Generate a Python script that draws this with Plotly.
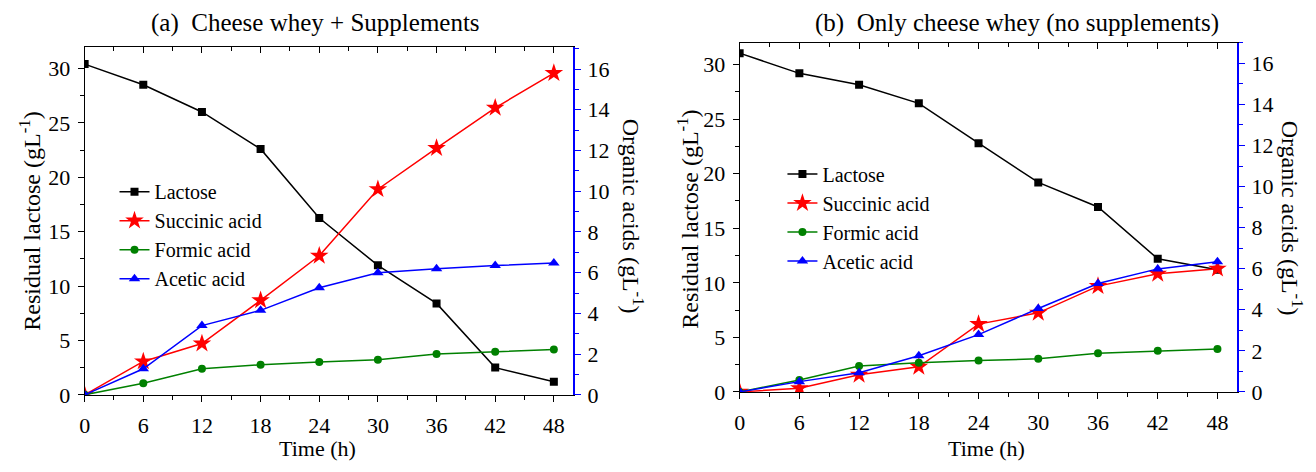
import plotly.graph_objects as go

W, H = 1316, 472

# ---------------- data ----------------
time_h = [0, 6, 12, 18, 24, 30, 36, 42, 48]
x_ticks = [0, 6, 12, 18, 24, 30, 36, 42, 48]

# (a) Cheese whey + Supplements
a_lactose = [30.4, 28.5, 26.0, 22.6, 16.25, 11.9, 8.4, 2.5, 1.2]
a_succinic = [0.0, 1.64, 2.52, 4.64, 6.83, 10.1, 12.12, 14.1, 15.8]
a_formic = [0.0, 0.57, 1.28, 1.48, 1.61, 1.72, 2.0, 2.12, 2.23]
a_acetic = [0.0, 1.28, 3.40, 4.15, 5.26, 6.0, 6.19, 6.35, 6.47]

# (b) Only cheese whey (no supplements)
b_lactose = [31.05, 29.2, 28.15, 26.45, 22.8, 19.2, 16.95, 12.2, 11.2]
b_succinic = [0.0, 0.18, 0.83, 1.22, 3.3, 3.85, 5.15, 5.75, 6.0]
b_formic = [0.0, 0.58, 1.26, 1.42, 1.53, 1.61, 1.88, 2.0, 2.09]
b_acetic = [0.0, 0.5, 0.93, 1.76, 2.79, 4.06, 5.28, 5.99, 6.34]

series_names = ["Lactose", "Succinic acid", "Formic acid", "Acetic acid"]
titles = ["(a)  Cheese whey + Supplements", "(b)  Only cheese whey (no supplements)"]
xlabel = "Time (h)"
ylabel_left = "Residual lactose (gL<sup>-1</sup>)"
ylabel_right = "Organic acids (gL<sup>-1</sup>)"

# ---------------- style ----------------
FONT = "Liberation Serif"
colors = ["#000000", "#ff0000", "#008000", "#0000ff"]
symbols = ["square", "star", "circle", "triangle-up"]
msizes = [8, 14, 8, 10]


def px(x):
    return x / W


def py(y):
    return 1 - y / H


fig = go.Figure()

panels = [
    dict(data=[a_lactose, a_succinic, a_formic, a_acetic], x="x", y="y", y2="y2", xt="x5",
         legend="legend", xdom=[px(79), px(570)], ydom=[py(406), py(48)], y2max=17.1),
    dict(data=[b_lactose, b_succinic, b_formic, b_acetic], x="x2", y="y3", y2="y4", xt="x6",
         legend="legend2", xdom=[px(737), px(1237)], ydom=[py(403), py(44)], y2max=17.0),
]

for p in panels:
    for i, (vals, name) in enumerate(zip(p["data"], series_names)):
        fig.add_trace(go.Scatter(
            x=time_h, y=vals, name=name, mode="lines+markers",
            xaxis=p["x"], yaxis=p["y"] if i == 0 else p["y2"],
            line=dict(color=colors[i], width=1.5),
            marker=dict(symbol=symbols[i], size=msizes[i], color=colors[i],
                        line=dict(width=0)),
            legend=p["legend"],
        ))
    # dummy trace for top tick axis
    fig.add_trace(go.Scatter(x=[0], y=[0], xaxis=p["xt"], yaxis=p["y"], mode="markers",
                             marker=dict(opacity=0), showlegend=False, hoverinfo="skip"))

axis_font = dict(family=FONT, size=22, color="black")

common_x = dict(range=[0, 50], tickvals=x_ticks, ticks="outside", ticklen=6, tickwidth=1,
                tickcolor="black", showline=True, linecolor="black", linewidth=1,
                showgrid=False, zeroline=False, tickfont=axis_font, ticklabelstandoff=5,
                minor=dict(ticks="outside", dtick=3, tick0=0, ticklen=4, tickcolor="black"))
common_top = dict(range=[0, 50], tickvals=x_ticks, ticks="inside", ticklen=6, tickwidth=1,
                  tickcolor="black", showline=True, linecolor="black", linewidth=1,
                  showgrid=False, zeroline=False, showticklabels=False, side="top",
                  minor=dict(ticks="inside", dtick=3, tick0=0, ticklen=4, tickcolor="black"))
common_yl = dict(range=[0, 32], dtick=5, tick0=0, ticks="outside", ticklen=6, tickwidth=1,
                 tickcolor="black", showline=True, linecolor="black", linewidth=1,
                 showgrid=False, zeroline=False, tickfont=axis_font, ticklabelstandoff=3,
                 minor=dict(ticks="outside", dtick=2.5, tick0=0, ticklen=4, tickcolor="black"))
common_yr = dict(dtick=2, tick0=0, ticks="outside", ticklen=6, tickwidth=1,
                 tickcolor="#0000ff", showline=True, linecolor="#0000ff", linewidth=1.5,
                 showgrid=False, zeroline=False, tickfont=axis_font, side="right",
                 ticklabelstandoff=2,
                 minor=dict(ticks="outside", dtick=1, tick0=0, ticklen=4, tickcolor="#0000ff"))

p0, p1 = panels
fig.update_layout(
    xaxis=dict(domain=p0["xdom"], anchor="y", **common_x),
    yaxis=dict(domain=p0["ydom"], anchor="x", **common_yl),
    yaxis2=dict(domain=p0["ydom"], anchor="x", overlaying="y", range=[0, p0["y2max"]], **common_yr),
    xaxis5=dict(domain=p0["xdom"], anchor="y", overlaying="x", **common_top),
    xaxis2=dict(domain=p1["xdom"], anchor="y3", **common_x),
    yaxis3=dict(domain=p1["ydom"], anchor="x2", **common_yl),
    yaxis4=dict(domain=p1["ydom"], anchor="x2", overlaying="y3", range=[0, p1["y2max"]], **common_yr),
    xaxis6=dict(domain=p1["xdom"], anchor="y3", overlaying="x2", **common_top),
)

legend_common = dict(font=dict(family=FONT, size=20, color="black"), bgcolor="rgba(0,0,0,0)",
                     borderwidth=0, xanchor="left", yanchor="top", tracegroupgap=0)
fig.update_layout(
    legend=dict(x=px(109), y=py(177), **legend_common),
    legend2=dict(x=px(780), y=py(159), **legend_common),
)

ann = []
# titles
ann.append(dict(text=titles[0], x=px(311), y=py(24), font=dict(family=FONT, size=25, color="black")))
ann.append(dict(text=titles[1], x=px(1016), y=py(24), font=dict(family=FONT, size=25, color="black")))
# x labels
ann.append(dict(text=xlabel, x=px(313), y=py(461), font=dict(family=FONT, size=22, color="black")))
ann.append(dict(text=xlabel, x=px(985), y=py(461), font=dict(family=FONT, size=22, color="black")))
# left y labels
ann.append(dict(text=ylabel_left, x=px(24), y=py(227), textangle=-90,
                font=dict(family=FONT, size=24, color="black")))
ann.append(dict(text=ylabel_left, x=px(685), y=py(225), textangle=-90,
                font=dict(family=FONT, size=24, color="black")))
# right y labels (rotated clockwise)
ann.append(dict(text=ylabel_right, x=px(630), y=py(222), textangle=90,
                font=dict(family=FONT, size=24, color="black")))
ann.append(dict(text=ylabel_right, x=px(1292), y=py(224), textangle=90,
                font=dict(family=FONT, size=24, color="black")))
for a in ann:
    a.update(xref="paper", yref="paper", showarrow=False, xanchor="center", yanchor="middle")

fig.update_layout(
    annotations=ann,
    width=W, height=H,
    margin=dict(l=0, r=0, t=0, b=0),
    paper_bgcolor="white", plot_bgcolor="white",
    font=dict(family=FONT, size=21, color="black"),
)

fig.write_html("out.html", include_plotlyjs=True, config={"displayModeBar": False})
